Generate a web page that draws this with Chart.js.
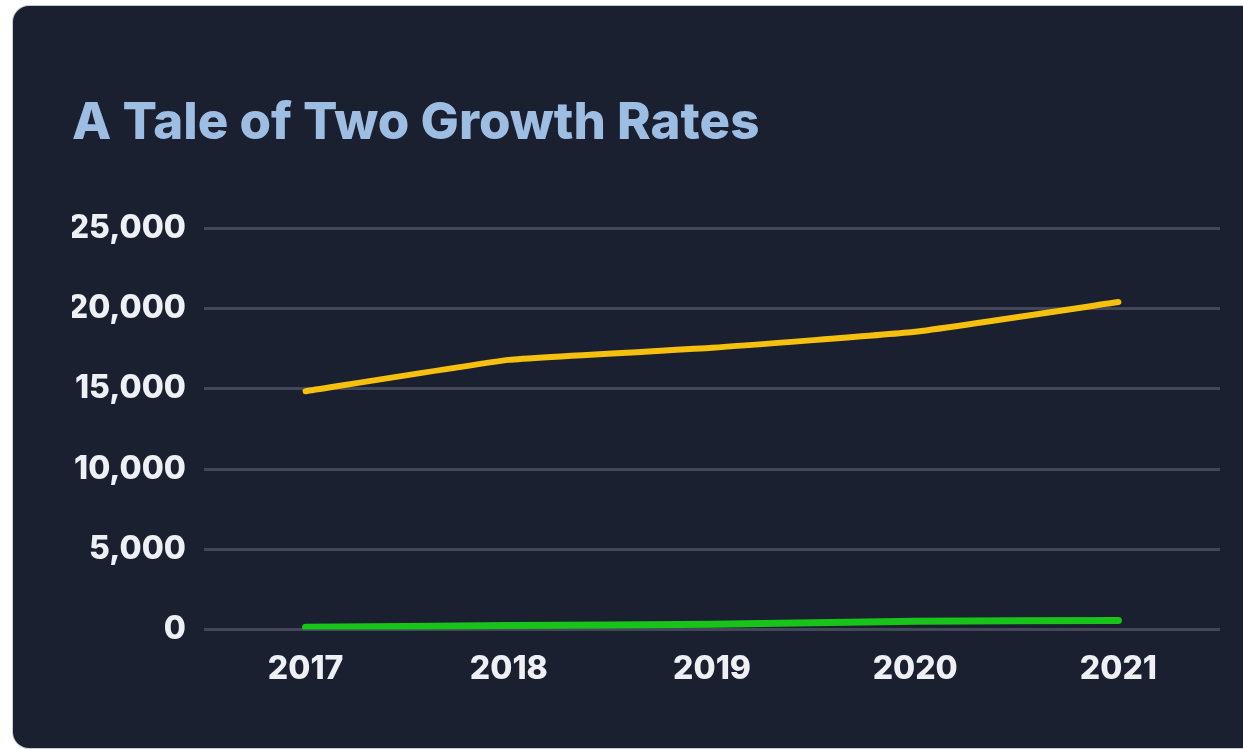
<!DOCTYPE html>
<html>
<head>
<meta charset="utf-8">
<script src="https://cdn.jsdelivr.net/npm/chart.js@4"></script>
<style>
  html, body { margin: 0; padding: 0; background: #ffffff; overflow: hidden; }
  #panel {
    position: absolute; left: 13px; top: 6px; width: 1250px; height: 742px;
    background: #1b2030; border-radius: 16px; box-shadow: 0 0 0 1px #c9cbd0;
  }
  #wrap { position: absolute; left: 0; top: 0; width: 1230px; height: 742px; }
</style>
</head>
<body>
<div id="panel"><div id="wrap"><canvas id="growthChart"></canvas></div></div>
<script>
const years = ["2017", "2018", "2019", "2020", "2021"];
const upperSeries = [14850, 16800, 17550, 18550, 20400];
const lowerSeries = [150, 250, 330, 520, 570];
const yTicks = [0, 5000, 10000, 15000, 20000, 25000];

const tickFont = { family: "Inter", weight: 800, size: 32 };

new Chart(document.getElementById("growthChart"), {
    type: "line",
    data: {
        labels: years,
        datasets: [
            { data: upperSeries, borderColor: "#f6c00f", borderWidth: 6, tension: 0.1 },
            { data: lowerSeries, borderColor: "#19c41a", borderWidth: 7, tension: 0.1 }
        ]
    },
    options: {
        responsive: true,
        maintainAspectRatio: false,
        animation: false,
        elements: {
            point: { radius: 0 },
            line: { borderCapStyle: "round", borderJoinStyle: "round" }
        },
        layout: { padding: { left: 59, right: 23, top: 0, bottom: 46 } },
        plugins: {
            legend: { display: false },
            tooltip: { enabled: false },
            title: {
                display: true,
                text: "A Tale of Two Growth Rates",
                align: "start",
                color: "#9dbde3",
                font: { family: "Inter", weight: 800, size: 51 },
                padding: { top: 87, bottom: 74 }
            }
        },
        scales: {
            x: {
                offset: true,
                grid: { display: false },
                border: { display: false },
                ticks: { color: "#eef0f5", font: tickFont, padding: 13 }
            },
            y: {
                min: 0,
                max: 25000,
                afterBuildTicks: axis => { axis.ticks = yTicks.map(v => ({ value: v })); },
                afterFit: axis => { axis.width = 132; },
                grid: { color: "#424858", lineWidth: 3, drawTicks: false },
                border: { display: false },
                ticks: {
                    color: "#eef0f5",
                    font: tickFont,
                    padding: 18,
                    callback: v => v.toLocaleString("en-US")
                }
            }
        }
    }
});
</script>
</body>
</html>
